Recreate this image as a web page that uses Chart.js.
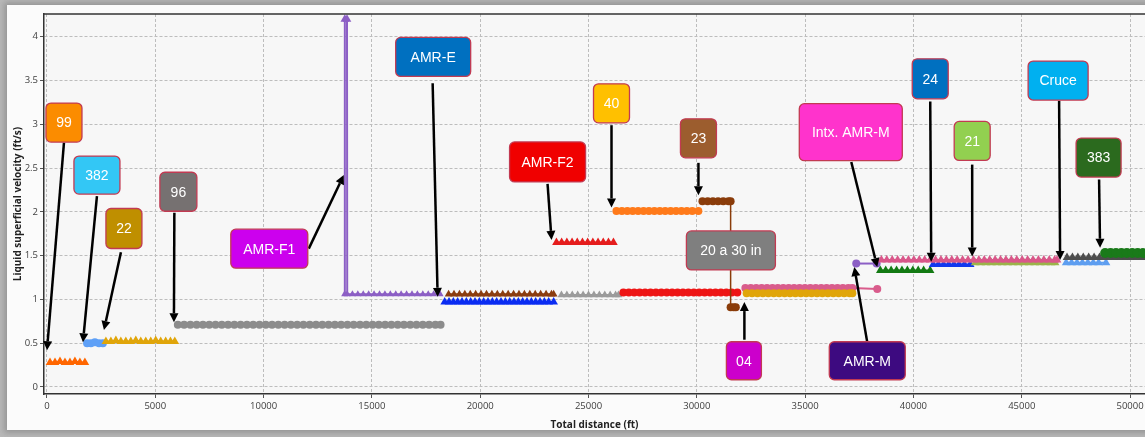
<!DOCTYPE html>
<html>
<head>
<meta charset="utf-8">
<script src="https://cdn.jsdelivr.net/npm/chart.js@4.4.1/dist/chart.umd.min.js"></script>
<style>
  html, body { margin: 0; padding: 0; width: 1145px; height: 437px; overflow: hidden; background: #b9b9b9; }
  #panel { position: absolute; left: 7px; top: 5px; width: 1170px; height: 425px; background: #fbfbfb;
           box-shadow: 0 0 6px 3px rgba(70,70,70,0.3); }
  #wrap { position: absolute; left: 0; top: 0; width: 1150px; height: 437px; }
</style>
</head>
<body>
<div id="panel"></div>
<div id="wrap"><canvas id="profile" width="1150" height="437"></canvas></div>
<script>
// ---- Axis ticks ----
const xTicks = [0, 5000, 10000, 15000, 20000, 25000, 30000, 35000, 40000, 45000, 50000];
const yTicks = [0, 0.5, 1, 1.5, 2, 2.5, 3, 3.5, 4];

// ---- Liquid superficial velocity by pipe section: [total distance ft, velocity ft/s] ----
const pts99 = [[140,0.28],[370,0.28],[600,0.29],[830,0.28],[1060,0.28],[1290,0.29],[1520,0.28],[1750,0.28]];
const pts382 = [[1850,0.50],[2030,0.50],[2210,0.51],[2400,0.50],[2580,0.50]];
const pts22 = [[2720,0.52],[2950,0.52],[3180,0.53],[3410,0.52],[3640,0.52],[3870,0.52],[4100,0.53],[4330,0.52],
  [4560,0.52],[4790,0.52],[5020,0.53],[5250,0.52],[5480,0.52],[5700,0.52],[5900,0.52]];
const pts96 = [[6040,0.71],[6330,0.71],[6620,0.71],[6910,0.71],[7200,0.71],[7490,0.71],[7780,0.71],[8070,0.71],
  [8360,0.71],[8650,0.71],[8940,0.71],[9230,0.71],[9520,0.71],[9810,0.71],[10100,0.71],[10390,0.71],[10680,0.71],
  [10970,0.71],[11260,0.71],[11550,0.71],[11840,0.71],[12130,0.71],[12420,0.71],[12710,0.71],[13000,0.71],
  [13290,0.71],[13580,0.71],[13870,0.71],[14160,0.71],[14450,0.71],[14740,0.71],[15030,0.71],[15320,0.71],
  [15610,0.71],[15900,0.71],[16190,0.71],[16480,0.71],[16770,0.71],[17060,0.71],[17350,0.71],[17640,0.71],
  [17930,0.71],[18170,0.71]];
const ptsAmrF1 = [[13740,1.06],[13750,4.20],[13850,4.20],[13860,1.06],[14100,1.06],[14350,1.06],[14600,1.06],
  [14850,1.06],[15100,1.06],[15350,1.06],[15600,1.06],[15850,1.06],[16100,1.06],[16350,1.06],[16600,1.06],
  [16850,1.06],[17100,1.06],[17350,1.06],[17600,1.06],[17850,1.06],[18150,1.06]];
const ptsAmrE = [[18540,1.06],[18790,1.06],[19040,1.06],[19290,1.06],[19540,1.06],[19790,1.06],[20040,1.06],
  [20290,1.06],[20540,1.06],[20790,1.06],[21040,1.06],[21290,1.06],[21540,1.06],[21790,1.06],[22040,1.06],
  [22290,1.06],[22540,1.06],[22790,1.06],[23040,1.06],[23290,1.06],[23390,1.06]];
const ptsAmrEBlue = [[18360,0.97],[18560,0.97],[18760,0.97],[18960,0.97],[19160,0.97],[19360,0.97],[19560,0.97],
  [19760,0.97],[19960,0.97],[20160,0.97],[20360,0.97],[20560,0.97],[20760,0.97],[20960,0.97],[21160,0.97],
  [21360,0.97],[21560,0.97],[21760,0.97],[21960,0.97],[22160,0.97],[22360,0.97],[22560,0.97],[22760,0.97],
  [22960,0.97],[23160,0.97],[23390,0.97]];
const ptsGray2 = [[23750,1.05],[24000,1.05],[24250,1.05],[24500,1.05],[24750,1.05],[25000,1.05],[25250,1.05],
  [25500,1.05],[25750,1.05],[26000,1.05],[26250,1.05],[26380,1.05]];
const ptsRed = [[26610,1.08],[26860,1.08],[27110,1.08],[27360,1.08],[27610,1.08],[27860,1.08],[28110,1.08],
  [28360,1.08],[28610,1.08],[28860,1.08],[29110,1.08],[29360,1.08],[29610,1.08],[29860,1.08],[30110,1.08],
  [30360,1.08],[30610,1.08],[30860,1.08],[31110,1.08],[31360,1.08],[31610,1.08],[31870,1.08]];
const ptsAmrF2 = [[23520,1.65],[23760,1.65],[24000,1.65],[24240,1.65],[24480,1.65],[24720,1.65],[24960,1.65],
  [25200,1.65],[25440,1.65],[25680,1.65],[25920,1.65],[26150,1.65]];
const pts40 = [[26290,2.01],[26540,2.01],[26790,2.01],[27040,2.01],[27290,2.01],[27540,2.01],[27790,2.01],
  [28040,2.01],[28290,2.01],[28540,2.01],[28790,2.01],[29040,2.01],[29290,2.01],[29540,2.01],[29790,2.01],[30070,2.01]];
const pts23 = [[30260,2.12],[30500,2.12],[30740,2.12],[30980,2.12],[31220,2.12],[31460,2.12],[31560,2.12],
  [31560,0.91],[31700,0.91],[31800,0.91]];
const ptsPink = [[32240,1.13],[32490,1.13],[32740,1.13],[32990,1.13],[33240,1.13],[33490,1.13],[33740,1.13],
  [33990,1.13],[34240,1.13],[34490,1.13],[34740,1.13],[34990,1.13],[35240,1.13],[35490,1.13],[35740,1.13],
  [35990,1.13],[36240,1.13],[36490,1.13],[36740,1.13],[36990,1.13],[37180,1.13],[38330,1.12]];
const ptsGold = [[32300,1.07],[32550,1.07],[32800,1.07],[33050,1.07],[33300,1.07],[33550,1.07],[33800,1.07],
  [34050,1.07],[34300,1.07],[34550,1.07],[34800,1.07],[35050,1.07],[35300,1.07],[35550,1.07],[35800,1.07],
  [36050,1.07],[36300,1.07],[36550,1.07],[36800,1.07],[37050,1.07],[37180,1.07]];
const ptsAmrM = [[37360,1.41],[38300,1.41]];
const ptsIntx = [[38520,1.45],[38770,1.45],[39020,1.45],[39270,1.45],[39520,1.45],[39770,1.45],[40020,1.45],
  [40270,1.45],[40520,1.45],[40770,1.45],[41020,1.45],[41270,1.45],[41520,1.45],[41770,1.45],[42020,1.45],
  [42270,1.45],[42520,1.45],[42770,1.45],[43020,1.45],[43270,1.45],[43520,1.45],[43770,1.45],[44020,1.45],
  [44270,1.45],[44520,1.45],[44770,1.45],[45020,1.45],[45270,1.45],[45520,1.45],[45770,1.45],[46020,1.45],
  [46270,1.45],[46520,1.45],[46630,1.45]];
const ptsGreen = [[38470,1.33],[38720,1.33],[38970,1.33],[39220,1.33],[39470,1.33],[39720,1.33],[39970,1.33],
  [40220,1.33],[40470,1.33],[40770,1.33]];
const pts24 = [[40910,1.40],[41150,1.40],[41390,1.40],[41630,1.40],[41870,1.40],[42110,1.40],[42350,1.40],[42620,1.40]];
const pts21 = [[42850,1.42],[43100,1.42],[43350,1.42],[43600,1.42],[43850,1.42],[44100,1.42],[44350,1.42],
  [44600,1.42],[44850,1.42],[45100,1.42],[45350,1.42],[45600,1.42],[45850,1.42],[46100,1.42],[46350,1.42],[46540,1.42]];
const ptsCruce = [[47090,1.48],[47340,1.48],[47590,1.48],[47840,1.48],[48090,1.48],[48340,1.48],[48590,1.48],
  [48840,1.48],[49090,1.48],[49340,1.48],[49590,1.48],[49840,1.48],[50090,1.48],[50340,1.48],[50590,1.48],[50880,1.48]];
const ptsCruceBlue = [[47050,1.42],[47300,1.42],[47550,1.42],[47800,1.42],[48050,1.42],[48300,1.42],[48550,1.42],[48890,1.42]];
const pts383 = [[48850,1.53],[49100,1.53],[49350,1.53],[49600,1.53],[49850,1.53],[50100,1.53],[50350,1.53],[50600,1.53],[50900,1.53]];

// ---- Section callouts (box centre and arrow in data units) ----
const callouts = [
  { text: '99', fill: '#fb8c00', x: 784, y: 3.02, w: 36, h: 39, tail: [784, 2.79], tip: [0, 0.42] },
  { text: '382', fill: '#33c7f5', x: 2306, y: 2.42, w: 46, h: 38, tail: [2306, 2.18], tip: [1660, 0.51] },
  { text: '22', fill: '#bf8f00', x: 3552, y: 1.81, w: 36, h: 40, tail: [3413, 1.54], tip: [2630, 0.65] },
  { text: '96', fill: '#767171', x: 6066, y: 2.23, w: 37, h: 39, tail: [5880, 1.99], tip: [5860, 0.74] },
  { text: 'AMR-F1', fill: '#cc00ee', x: 10263, y: 1.58, w: 77, h: 39, tail: [12085, 1.58], tip: [13700, 2.42] },
  { text: 'AMR-E', fill: '#0070c0', x: 17828, y: 3.77, w: 75, h: 39, tail: [17804, 3.47], tip: [18035, 1.03] },
  { text: 'AMR-F2', fill: '#f00000', x: 23109, y: 2.57, w: 76, h: 40, tail: [23109, 2.32], tip: [23293, 1.68] },
  { text: '40', fill: '#ffc000', x: 26061, y: 3.24, w: 36, h: 39, tail: [26061, 2.99], tip: [26061, 2.05] },
  { text: '23', fill: '#9c5d2e', x: 30074, y: 2.84, w: 36, h: 39, tail: [30074, 2.56], tip: [30074, 2.19] },
  { text: '20 a 30 in', fill: '#7f7f7f', x: 31573, y: 1.56, w: 89, h: 39 },
  { text: '04', fill: '#cc00cc', x: 32173, y: 0.30, w: 35, h: 38, tail: [32196, 0.54], tip: [32196, 0.97] },
  { text: 'AMR-M', fill: '#3d0a80', x: 37869, y: 0.30, w: 76, h: 38, tail: [37869, 0.51], tip: [37270, 1.37] },
  { text: 'Intx. AMR-M', fill: '#ff33cc', x: 37108, y: 2.91, w: 103, h: 57, tail: [37131, 2.57], tip: [38330, 1.37] },
  { text: '24', fill: '#0070c0', x: 40775, y: 3.52, w: 36, h: 40, tail: [40775, 3.26], tip: [40821, 1.43] },
  { text: '21', fill: '#92d050', x: 42712, y: 2.81, w: 36, h: 39, tail: [42712, 2.54], tip: [42712, 1.49] },
  { text: 'Cruce', fill: '#00b0f0', x: 46679, y: 3.50, w: 60, h: 39, tail: [46725, 3.27], tip: [46771, 1.45] },
  { text: '383', fill: '#2b6a1e', x: 48547, y: 2.62, w: 45, h: 39, tail: [48570, 2.37], tip: [48616, 1.59] }
];

function section(points, color, style, radius, lineWidth) {
  return {
    data: points.map(([x, y]) => ({ x, y })),
    borderColor: color,
    backgroundColor: color,
    pointStyle: style,
    pointRadius: radius,
    pointHoverRadius: radius,
    pointBorderWidth: 0,
    borderWidth: lineWidth === undefined ? 2 : lineWidth,
    showLine: true,
    tension: 0
  };
}

// back-to-front drawing order
const layers = [
  section(pts96, '#8c8c8c', 'circle', 4),
  section(pts99, '#ff6600', 'triangle', 5),
  section(pts382, '#5ea0f7', 'circle', 4),
  section(pts22, '#e0a50a', 'triangle', 5),
  Object.assign(section(ptsAmrF1, '#8c5fc5', 'triangle', 4), {
    pointRadius: c => (c.raw && c.raw.y > 4 ? 5 : 4)
  }),
  section(ptsAmrEBlue, '#0a2cf2', 'triangle', 5),
  section(ptsAmrE, '#8b3d0f', 'triangle', 4.5),
  section(ptsGray2, '#9b9b9b', 'triangle', 4.5),
  section(ptsRed, '#ee1515', 'circle', 4),
  section(ptsAmrF2, '#e51d1d', 'triangle', 5),
  section(pts40, '#ff7a1a', 'circle', 4),
  section(pts23, '#8a3c0a', 'circle', 4, 1.5),
  section(ptsPink, '#d95c8c', 'circle', 4),
  section(ptsGold, '#e0a50a', 'circle', 4),
  section(ptsAmrM, '#8c5fc5', 'circle', 4),
  section(ptsGreen, '#137a13', 'triangle', 5),
  section(pts24, '#1238ee', 'triangle', 5),
  section(pts21, '#9bb44a', 'triangle', 5),
  section(ptsIntx, '#d9578a', 'triangle', 5),
  section(ptsCruceBlue, '#5e9ef0', 'triangle', 5),
  section(ptsCruce, '#4d4d4d', 'triangle', 5),
  section(pts383, '#1a7a1a', 'circle', 5)
];
const datasets = layers.slice().reverse();

const plotBackground = {
  id: 'plotBackground',
  beforeDraw(chart) {
    const { ctx, chartArea: a } = chart;
    ctx.save();
    ctx.fillStyle = '#f7f7f7';
    ctx.fillRect(a.left, a.top, a.right - a.left, a.bottom - a.top);
    ctx.restore();
  }
};

function drawArrow(ctx, x1, y1, x2, y2) {
  const ang = Math.atan2(y2 - y1, x2 - x1);
  const head = 9, half = 4.5;
  const bx = x2 - Math.cos(ang) * head, by = y2 - Math.sin(ang) * head;
  ctx.strokeStyle = '#000';
  ctx.lineWidth = 2.5;
  ctx.beginPath();
  ctx.moveTo(x1, y1);
  ctx.lineTo(bx, by);
  ctx.stroke();
  ctx.fillStyle = '#000';
  ctx.beginPath();
  ctx.moveTo(x2, y2);
  ctx.lineTo(bx + Math.sin(ang) * half, by - Math.cos(ang) * half);
  ctx.lineTo(bx - Math.sin(ang) * half, by + Math.cos(ang) * half);
  ctx.closePath();
  ctx.fill();
}

const calloutPlugin = {
  id: 'callouts',
  afterDatasetsDraw(chart) {
    const { ctx, chartArea: a, scales: { x, y } } = chart;
    ctx.save();
    // frame line along the top of the plot
    ctx.strokeStyle = '#333';
    ctx.lineWidth = 1.5;
    ctx.beginPath();
    ctx.moveTo(a.left, a.top);
    ctx.lineTo(a.right, a.top);
    ctx.stroke();

    callouts.forEach(c => {
      if (!c.tip) return;
      drawArrow(ctx, x.getPixelForValue(c.tail[0]), y.getPixelForValue(c.tail[1]),
                     x.getPixelForValue(c.tip[0]), y.getPixelForValue(c.tip[1]));
    });
    callouts.forEach(c => {
      const cx = x.getPixelForValue(c.x), cy = y.getPixelForValue(c.y);
      const l = cx - c.w / 2, t = cy - c.h / 2;
      ctx.beginPath();
      ctx.roundRect(l, t, c.w, c.h, 5);
      ctx.fillStyle = c.fill;
      ctx.fill();
      ctx.strokeStyle = '#c23a52';
      ctx.lineWidth = 1.3;
      ctx.stroke();
      ctx.fillStyle = '#ffffff';
      ctx.font = '14px "Liberation Sans", Arial, sans-serif';
      ctx.textAlign = 'center';
      ctx.textBaseline = 'middle';
      ctx.fillText(c.text, cx, cy + 1);
    });
    ctx.restore();
  }
};

const tickFont = { family: '"Open Sans", sans-serif', size: 9.5 };
const titleFont = { family: '"Open Sans", sans-serif', size: 10, weight: 'bold' };
const gridOpts = { color: '#bdbdbd', lineWidth: 1, tickLength: 4, tickColor: '#555', tickBorderDash: [] };
const borderOpts = { display: true, color: '#333', width: 1.5, dash: [3, 2] };

new Chart(document.getElementById('profile'), {
  type: 'scatter',
  data: { datasets },
  options: {
    responsive: false,
    animation: false,
    events: [],
    layout: { padding: { top: 14, right: 4, bottom: 0, left: 0 } },
    plugins: { legend: { display: false }, tooltip: { enabled: false } },
    scales: {
      x: {
        type: 'linear',
        min: -138,
        max: 50690,
        afterBuildTicks: s => { s.ticks = xTicks.map(v => ({ value: v })); },
        afterFit: s => { s.height = 43; },
        ticks: { autoSkip: false, maxRotation: 0, padding: 3, color: '#404040', font: tickFont,
                 callback: v => String(v) },
        grid: gridOpts,
        border: borderOpts,
        title: { display: true, text: 'Total distance (ft)', color: '#222', font: titleFont,
                 padding: { top: 0, bottom: 6 } }
      },
      y: {
        type: 'linear',
        min: -0.08,
        max: 4.26,
        afterBuildTicks: s => { s.ticks = yTicks.map(v => ({ value: v })); },
        afterFit: s => { s.width = 44; },
        ticks: { autoSkip: false, padding: 2, color: '#404040', font: tickFont,
                 callback: v => String(v) },
        grid: gridOpts,
        border: borderOpts,
        title: { display: true, text: 'Liquid superficial velocity (ft/s)', color: '#222', font: titleFont,
                 padding: { top: 12, bottom: 0 } }
      }
    }
  },
  plugins: [plotBackground, calloutPlugin]
});
</script>
</body>
</html>
